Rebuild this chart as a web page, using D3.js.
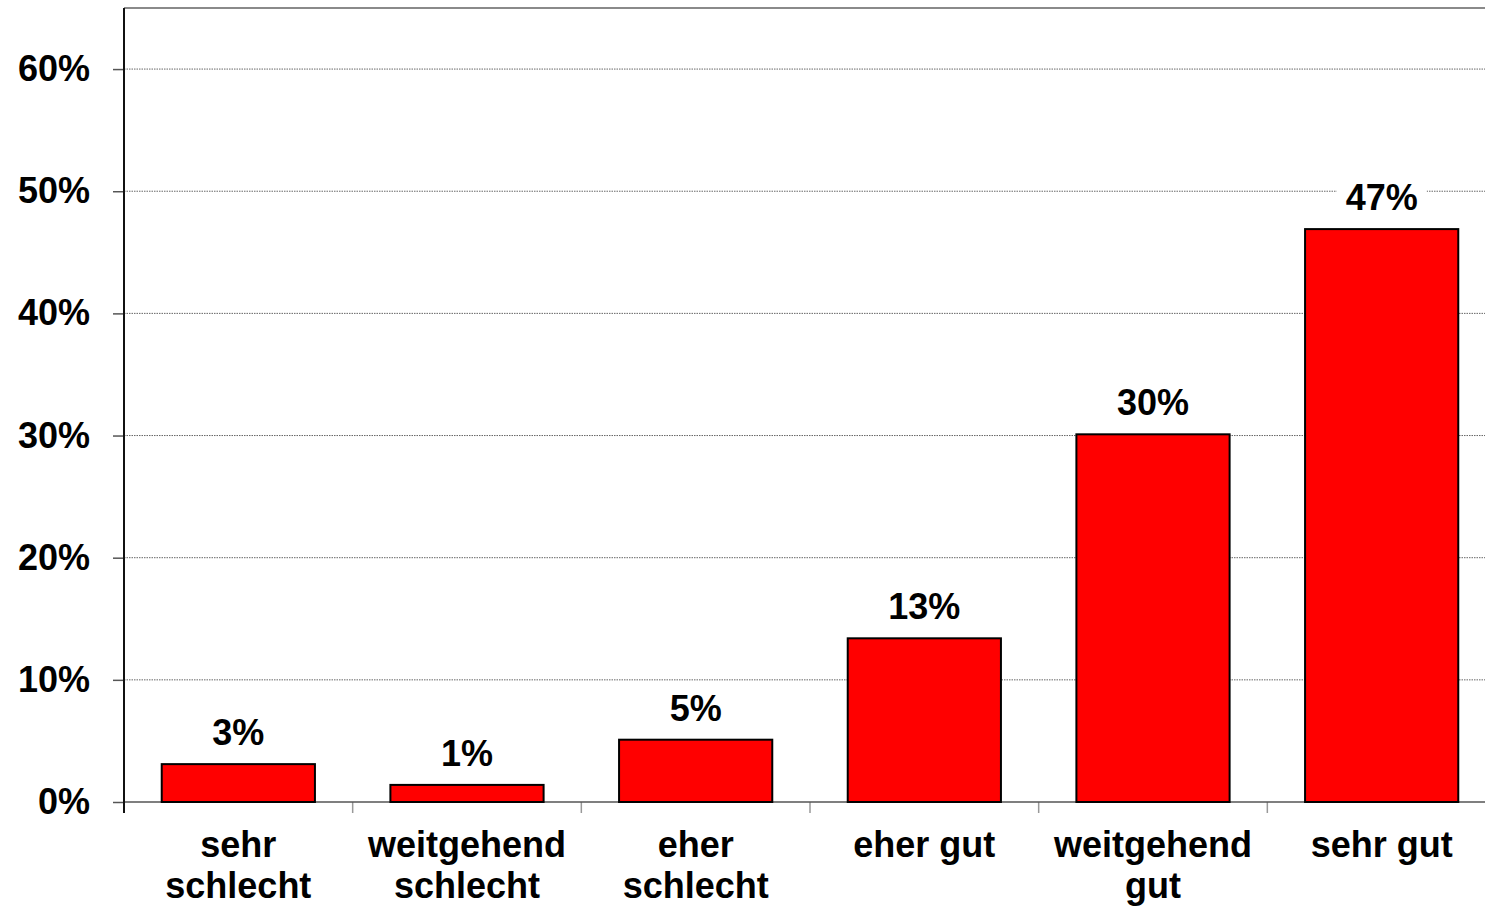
<!DOCTYPE html>
<html>
<head>
<meta charset="utf-8">
<script src="https://cdn.jsdelivr.net/npm/d3@7.9.0/dist/d3.min.js"></script>
<style>
  body { margin: 0; background: #fff; }
  svg { display: block; font-family: "Liberation Sans", Arial, sans-serif; font-weight: bold; }
</style>
</head>
<body>
<svg id="chart" width="1485" height="910"></svg>
<script>
// Data
const categories = ['sehr schlecht', 'weitgehend schlecht', 'eher schlecht', 'eher gut', 'weitgehend gut', 'sehr gut'];
const labelLines = [['sehr', 'schlecht'], ['weitgehend', 'schlecht'], ['eher', 'schlecht'], ['eher gut'], ['weitgehend', 'gut'], ['sehr gut']];
const values = [0.031, 0.014, 0.051, 0.134, 0.301, 0.469];
const yTicks = [0, 0.1, 0.2, 0.3, 0.4, 0.5, 0.6];

const svg = d3.select('#chart');

// Plot frame (right side runs off the window like in the original)
const plotLeft = 124, plotRight = 1496, plotTop = 8, plotBottom = 802;

let x = d3.scaleBand()
  .domain(categories)
  .range([plotLeft, plotRight])
  .paddingInner(0.33)
  .paddingOuter(0.165);

let y = d3.scaleLinear()
  .domain([0, 0.65])
  .range([plotBottom, plotTop]);

// Gridlines
svg.append('g')
  .selectAll('line')
  .data(yTicks.filter(d => d > 0))
  .enter()
  .append('line')
  .attr('x1', plotLeft)
  .attr('x2', plotRight)
  .attr('y1', d => y(d))
  .attr('y2', d => y(d))
  .attr('stroke', '#666')
  .attr('stroke-width', 1)
  .attr('stroke-dasharray', '1.5,1');

// Top border
svg.append('line')
  .attr('x1', plotLeft).attr('x2', plotRight)
  .attr('y1', plotTop).attr('y2', plotTop)
  .attr('stroke', '#8a8a8a')
  .attr('stroke-width', 2);

// Y axis labels + ticks
let yAxis = d3.axisLeft(y)
  .tickValues(yTicks)
  .tickFormat(d3.format('.0%'))
  .tickSizeInner(11)
  .tickSizeOuter(0)
  .tickPadding(23);

let yAxisG = svg.append('g')
  .attr('transform', `translate(${plotLeft},0)`)
  .call(yAxis);
yAxisG.select('.domain').remove();
yAxisG.selectAll('.tick line').attr('stroke', '#555').attr('stroke-width', 1.5);
yAxisG.selectAll('.tick text')
  .attr('font-size', 36)
  .attr('font-weight', 'bold')
  .attr('font-family', '"Liberation Sans", Arial, sans-serif')
  .attr('fill', '#000');

// Category boundary ticks
let bounds = d3.range(categories.length + 1).map(i => x.range()[0] + i * x.step());
svg.append('g')
  .selectAll('line')
  .data(bounds.slice(1))
  .enter()
  .append('line')
  .attr('x1', d => d).attr('x2', d => d)
  .attr('y1', plotBottom).attr('y2', plotBottom + 11)
  .attr('stroke', '#999')
  .attr('stroke-width', 1.5);

// X axis baseline
svg.append('line')
  .attr('x1', plotLeft).attr('x2', plotRight)
  .attr('y1', plotBottom).attr('y2', plotBottom)
  .attr('stroke', '#555')
  .attr('stroke-width', 1.5);

// Y axis line
svg.append('line')
  .attr('x1', plotLeft).attr('x2', plotLeft)
  .attr('y1', plotTop).attr('y2', plotBottom + 11)
  .attr('stroke', '#111')
  .attr('stroke-width', 2);

// Bars
svg.append('g')
  .selectAll('rect')
  .data(values)
  .enter()
  .append('rect')
  .attr('x', (d, i) => x(categories[i]))
  .attr('y', d => y(d))
  .attr('width', x.bandwidth())
  .attr('height', d => plotBottom - y(d))
  .attr('fill', '#ff0000')
  .attr('stroke', '#000')
  .attr('stroke-width', 2);

// Value labels with white background
let valueLabels = svg.append('g')
  .selectAll('g')
  .data(values)
  .enter()
  .append('g');

valueLabels.append('text')
  .attr('x', (d, i) => x(categories[i]) + x.bandwidth() / 2)
  .attr('y', d => y(d) - 19)
  .attr('text-anchor', 'middle')
  .attr('font-size', 36)
  .attr('fill', '#000')
  .text(d => `${Math.round(d * 100)}%`);

valueLabels.each(function() {
  let g = d3.select(this);
  let bb = g.select('text').node().getBBox();
  g.insert('rect', 'text')
    .attr('x', bb.x - 9)
    .attr('y', bb.y)
    .attr('width', bb.width + 18)
    .attr('height', bb.height)
    .attr('fill', '#fff');
});

// Category labels
let catLabels = svg.append('g')
  .selectAll('text')
  .data(categories)
  .enter()
  .append('text')
  .attr('x', d => x(d) + x.bandwidth() / 2)
  .attr('y', 857)
  .attr('text-anchor', 'middle')
  .attr('font-size', 36)
  .attr('fill', '#000');

catLabels.each(function(d, i) {
  d3.select(this).selectAll('tspan')
    .data(labelLines[i])
    .enter()
    .append('tspan')
    .attr('x', x(d) + x.bandwidth() / 2)
    .attr('dy', (l, j) => j === 0 ? 0 : 41)
    .text(l => l);
});
</script>
</body>
</html>
